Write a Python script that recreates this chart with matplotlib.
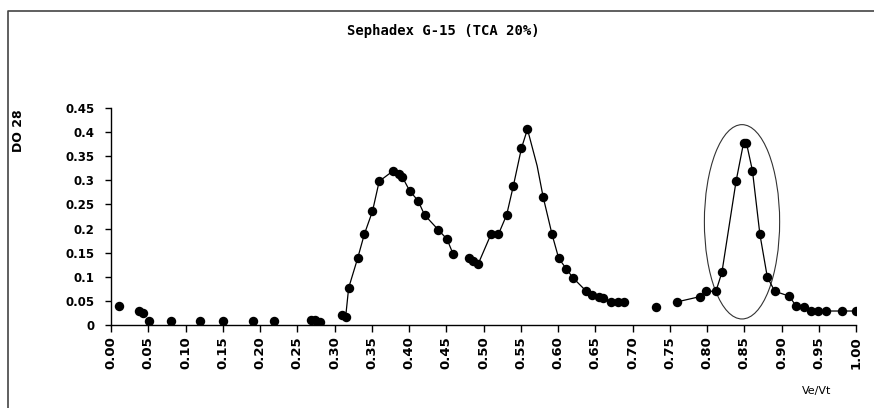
import matplotlib.pyplot as plt
from matplotlib.patches import Ellipse
from matplotlib.lines import Line2D

# Points drawn without connecting line
loose_x = [0.011, 0.038, 0.043, 0.051, 0.080, 0.119, 0.151, 0.191, 0.219,
           0.268, 0.274, 0.281, 0.731]
loose_y = [0.039, 0.030, 0.025, 0.008, 0.008, 0.008, 0.008, 0.008, 0.008,
           0.010, 0.010, 0.006, 0.037]

# First two peaks (connected)
peak1_x = [0.310, 0.315, 0.319, 0.331, 0.340, 0.351, 0.360, 0.379, 0.386,
           0.391, 0.401, 0.412, 0.421, 0.439, 0.451, 0.459]
peak1_y = [0.021, 0.017, 0.077, 0.138, 0.188, 0.236, 0.298, 0.320, 0.314,
           0.307, 0.278, 0.258, 0.228, 0.198, 0.178, 0.148]

peak2_x = [0.480, 0.486, 0.493, 0.510, 0.520, 0.531, 0.540, 0.551, 0.559,
           0.572, 0.580, 0.592, 0.601, 0.611, 0.620, 0.638, 0.646, 0.655,
           0.660, 0.671, 0.680, 0.689]
peak2_y = [0.139, 0.133, 0.127, 0.188, 0.188, 0.228, 0.288, 0.367, 0.406,
           0.330, 0.266, 0.188, 0.138, 0.117, 0.098, 0.070, 0.063, 0.059,
           0.056, 0.047, 0.047, 0.047]
peak2_nomark = [9]  # bend in line with no dot

# Third peak (circled) and tail
peak3_x = [0.760, 0.791, 0.799, 0.812, 0.820, 0.839, 0.849, 0.853, 0.861,
           0.871, 0.881, 0.891, 0.910, 0.920, 0.930, 0.940, 0.949, 0.960,
           0.981, 1.000]
peak3_y = [0.048, 0.059, 0.070, 0.070, 0.109, 0.298, 0.377, 0.377, 0.320,
           0.188, 0.099, 0.070, 0.060, 0.039, 0.037, 0.029, 0.029, 0.029,
           0.029, 0.029]

# circled region
circle_center = (0.847, 0.214)
circle_w = 0.101
circle_h = 0.403

yticks = [0, 0.05, 0.1, 0.15, 0.2, 0.25, 0.3, 0.35, 0.4, 0.45]
ytick_labels = ["0", "0.05", "0.1", "0.15", "0.2", "0.25", "0.3", "0.35", "0.4", "0.45"]
xticks = [i * 0.05 for i in range(21)]
xtick_labels = ["%.2f" % v for v in xticks]

fig = plt.figure(figsize=(8.74, 4.08), dpi=100)
ax = fig.add_axes([111 / 874, 1 - 325 / 408, (856 - 111) / 874, (325 - 108) / 408])

mk = dict(marker="o", markersize=6.8, color="black", markeredgewidth=0)

ax.plot(loose_x, loose_y, linestyle="none", **mk)
ax.plot(peak1_x, peak1_y, lw=0.9, **mk)
keep = [i for i in range(len(peak2_x)) if i not in peak2_nomark]
ax.plot(peak2_x, peak2_y, lw=0.9, markevery=keep, **mk)
ax.plot(peak3_x, peak3_y, lw=0.9, **mk)

ax.add_patch(Ellipse(circle_center, circle_w, circle_h, fill=False,
                     edgecolor="#333333", lw=0.8))

ax.set_xlim(0, 1.0)
ax.set_ylim(0, 0.45)
ax.set_yticks(yticks)
ax.set_yticklabels(ytick_labels, fontsize=8.5, fontweight="bold")
ax.set_xticks(xticks)
ax.set_xticklabels(xtick_labels, rotation=90, fontsize=9.5, fontweight="bold")

for s in ["top", "right"]:
    ax.spines[s].set_visible(False)
for s in ["left", "bottom"]:
    ax.spines[s].set_linewidth(1)
ax.tick_params(axis="y", direction="out", length=4, width=1, pad=8)
ax.tick_params(axis="x", direction="out", length=5, width=1, pad=3)

fig.text(443 / 874, 1 - 31 / 408, "Sephadex G-15 (TCA 20%)", ha="center",
         va="center", fontsize=10, fontweight="bold", family="DejaVu Sans Mono")
fig.text(18 / 874, 1 - 131 / 408, "DO 28", rotation=90, ha="center",
         va="center", fontsize=9, fontweight="bold")
fig.text(817 / 874, 1 - 391 / 408, "Ve/Vt", ha="center", va="center",
         fontsize=8)

# chart frame (only left and top edges are visible)
fig.add_artist(Line2D([8 / 874, 8 / 874, 1.0], [0, 1 - 11 / 408, 1 - 11 / 408],
                      transform=fig.transFigure, color="#444444", lw=1.2))

fig.savefig("out.png", dpi=100)
